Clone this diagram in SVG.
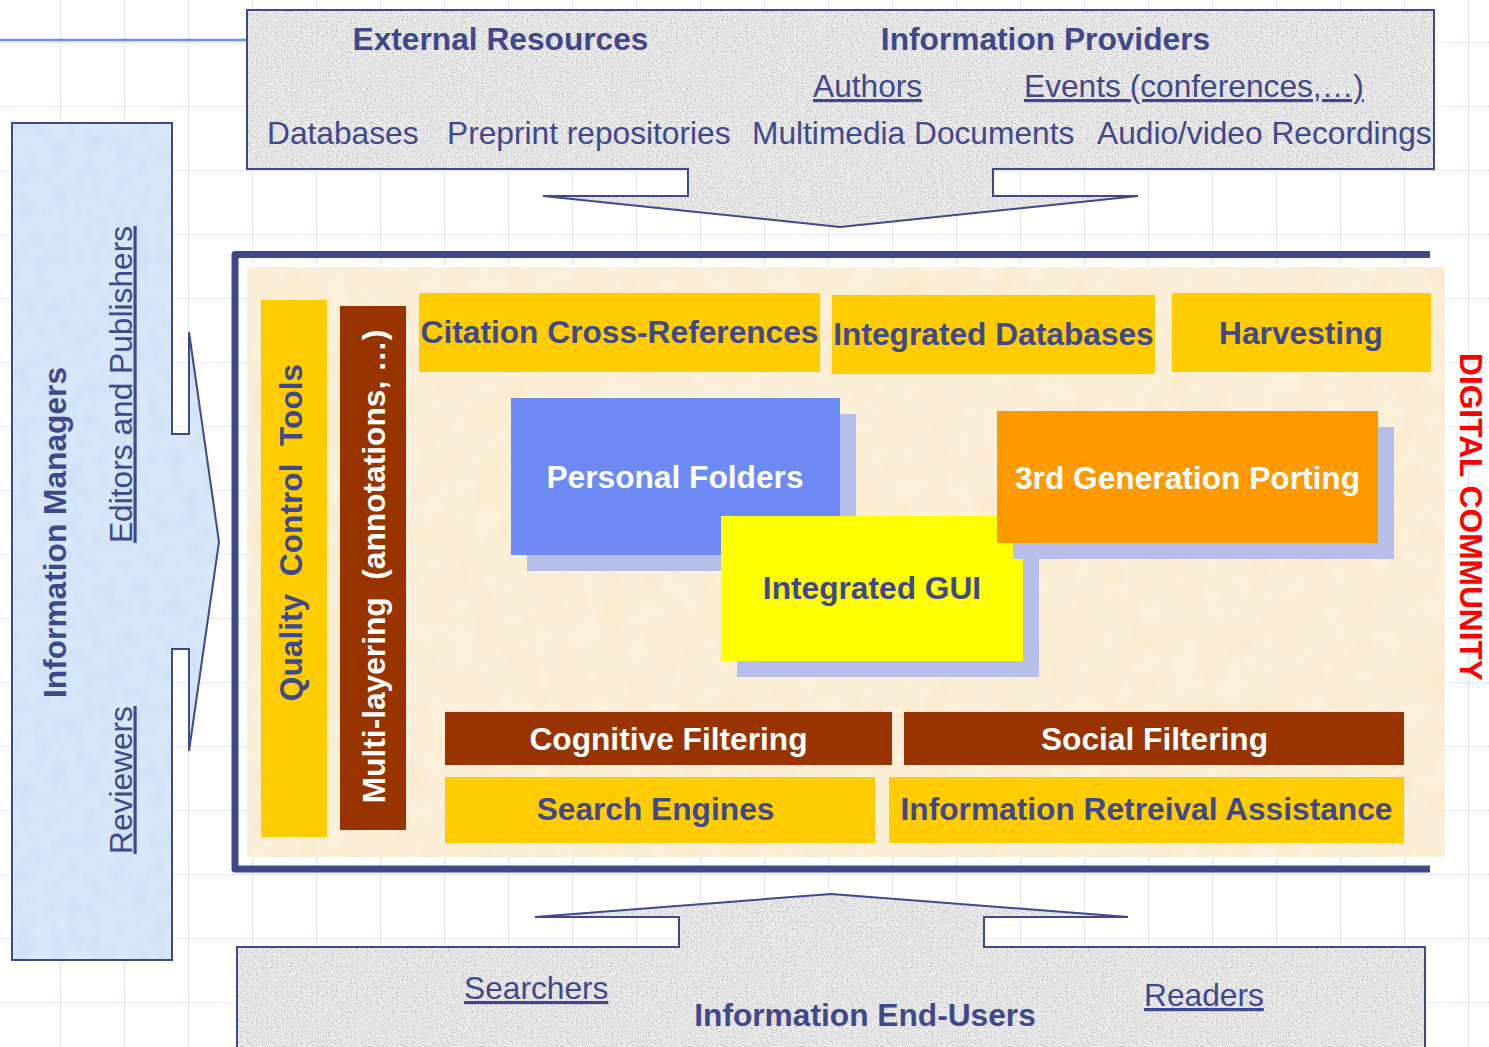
<svg xmlns="http://www.w3.org/2000/svg" width="1489" height="1047" viewBox="0 0 1489 1047">
<style>
.t{font-family:"Liberation Sans",Arial,Helvetica,sans-serif;font-size:31.7px}
.b{font-weight:bold}
.dk{fill:#40488c}
.wh{fill:#ffffff}
.u{text-decoration:underline}
.ol{fill:none;stroke:#40488c;stroke-width:2}
.gold{fill:#ffcc00}
.brown{fill:#993300}
.shadow{fill:#b5bfea}
.pre{white-space:pre}
</style>
<defs>
<pattern id="grid" x="60" y="42" width="64" height="64" patternUnits="userSpaceOnUse">
<path d="M0,0.5H64M0.5,0V64" fill="none" stroke="#d9e0f9" stroke-width="1" stroke-dasharray="3 1"/>
</pattern>
<filter id="grainGrey" x="0" y="0" width="100%" height="100%" color-interpolation-filters="sRGB">
<feTurbulence type="fractalNoise" baseFrequency="0.8" numOctaves="2" seed="4" result="n"/>
<feColorMatrix in="n" type="matrix" values="0 0 0 0 0.5  0 0 0 0 0.5  0 0 0 0 0.5  -1.6 0 0 0 0.8" result="d"/>
<feComposite in="d" in2="SourceGraphic" operator="in" result="dm"/>
<feMerge><feMergeNode in="SourceGraphic"/><feMergeNode in="dm"/></feMerge>
</filter>
<filter id="grainBlue" x="0" y="0" width="100%" height="100%" color-interpolation-filters="sRGB">
<feTurbulence type="fractalNoise" baseFrequency="0.06" numOctaves="3" seed="9" result="n"/>
<feColorMatrix in="n" type="matrix" values="0 0 0 0 0.78  0 0 0 0 0.85  0 0 0 0 0.95  -1.2 0 0 0 0.75" result="d"/>
<feComposite in="d" in2="SourceGraphic" operator="in" result="dm"/>
<feMerge><feMergeNode in="SourceGraphic"/><feMergeNode in="dm"/></feMerge>
</filter>
<filter id="grainCream" x="0" y="0" width="100%" height="100%" color-interpolation-filters="sRGB">
<feTurbulence type="fractalNoise" baseFrequency="0.04" numOctaves="2" seed="2" result="n"/>
<feColorMatrix in="n" type="matrix" values="0 0 0 0 0.97  0 0 0 0 0.90  0 0 0 0 0.76  -1.2 0 0 0 0.75" result="d"/>
<feComposite in="d" in2="SourceGraphic" operator="in" result="dm"/>
<feMerge><feMergeNode in="SourceGraphic"/><feMergeNode in="dm"/></feMerge>
</filter>
</defs>

<rect width="1489" height="1047" fill="#ffffff"/>
<rect width="1489" height="1047" fill="url(#grid)"/>

<g id="connectors">
<line x1="0" y1="40" x2="247" y2="40" stroke="#6e8cf2" stroke-width="2.5"/>
</g>

<g id="n-top">
<path d="M247,10 H1434 V169 H993 V196 H1138 L840,227 L543,196 H688 V169 H247 Z" fill="#ebebeb" filter="url(#grainGrey)"/>
<path d="M247,10 H1434 V169 H993 V196 H1138 L840,227 L543,196 H688 V169 H247 Z" class="ol"/>
<text class="t b dk" x="500.5" y="50" text-anchor="middle">External Resources</text>
<text class="t b dk" x="1045.5" y="50" text-anchor="middle">Information Providers</text>
<text class="t dk u" x="813" y="97">Authors</text>
<text class="t dk u" x="1024" y="97">Events (conferences,…)</text>
<text class="t dk" x="267" y="143.5">Databases</text>
<text class="t dk" x="447" y="143.5">Preprint repositories</text>
<text class="t dk" x="752" y="143.5">Multimedia Documents</text>
<text class="t dk" x="1097" y="143.5">Audio/video Recordings</text>
</g>

<g id="n-managers">
<path d="M12,123 H172 V434 H189 V332 L219,542 L189,751 V649 H172 V960 H12 Z" fill="#d9e8f9" filter="url(#grainBlue)"/>
<path d="M12,123 H172 V434 H189 V332 L219,542 L189,751 V649 H172 V960 H12 Z" class="ol"/>
<text class="t b dk" transform="translate(66,532.5) rotate(-90)" text-anchor="middle">Information Managers</text>
<text class="t dk u" transform="translate(131.5,384.5) rotate(-90)" text-anchor="middle">Editors and Publishers</text>
<text class="t dk u" transform="translate(131.5,780) rotate(-90)" text-anchor="middle">Reviewers</text>
</g>

<g id="n-endusers">
<path d="M237,1052 V947 H679 V917 H535 L831,894 L1128,917 H984 V947 H1425 V1052 Z" fill="#ebebeb" filter="url(#grainGrey)"/>
<path d="M237,1052 V947 H679 V917 H535 L831,894 L1128,917 H984 V947 H1425 V1052" class="ol"/>
<text class="t dk u" x="464" y="999">Searchers</text>
<text class="t dk u" x="1144" y="1006">Readers</text>
<text class="t b dk" x="865" y="1026" text-anchor="middle">Information End-Users</text>
</g>

<g id="n-community">
<rect x="247" y="267" width="1198" height="590" fill="#fcf0da" filter="url(#grainCream)"/>
<path d="M1430,254.5 H235 V869 H1430" fill="none" stroke="#40488c" stroke-width="7" stroke-linejoin="round"/>
</g>

<g id="n-digital">
<text class="t b" fill="#ff0000" transform="translate(1460,517) rotate(90)" text-anchor="middle">DIGITAL COMMUNITY</text>
</g>

<g id="n-quality">
<rect class="gold" x="261" y="300" width="66" height="537"/>
<text class="t b dk pre" xml:space="preserve" transform="translate(301.5,532.5) rotate(-90)" text-anchor="middle">Quality  Control  Tools</text>
</g>

<g id="n-multilayer">
<rect class="brown" x="340" y="306" width="66" height="524"/>
<text class="t b wh pre" xml:space="preserve" transform="translate(385,566.5) rotate(-90)" text-anchor="middle">Multi-layering  (annotations, …)</text>
</g>

<g id="n-citation">
<rect class="gold" x="419" y="293" width="401" height="79"/>
<text class="t b dk" x="619.5" y="343" text-anchor="middle">Citation Cross-References</text>
</g>

<g id="n-intdb">
<rect class="gold" x="832" y="295" width="323" height="79"/>
<text class="t b dk" x="993.5" y="345" text-anchor="middle">Integrated Databases</text>
</g>

<g id="n-harvest">
<rect class="gold" x="1172" y="293" width="259" height="79"/>
<text class="t b dk" x="1301" y="344" text-anchor="middle">Harvesting</text>
</g>

<g id="n-personal">
<rect class="shadow" x="527" y="414" width="329" height="157"/>
<rect x="511" y="398" width="329" height="157" fill="#6d8af5"/>
<text class="t b wh" x="675" y="487.5" text-anchor="middle">Personal Folders</text>
</g>

<g id="n-gui">
<rect class="shadow" x="737" y="532" width="302" height="145"/>
<rect x="721" y="516" width="302" height="145" fill="#ffff00"/>
<text class="t b dk" x="872" y="598.5" text-anchor="middle">Integrated GUI</text>
</g>

<g id="n-porting">
<rect class="shadow" x="1013" y="427" width="381" height="132"/>
<rect x="997" y="411" width="381" height="132" fill="#ff9900"/>
<text class="t b wh" x="1187.5" y="488.5" text-anchor="middle">3rd Generation Porting</text>
</g>

<g id="n-cognitive">
<rect class="brown" x="445" y="712" width="447" height="53"/>
<text class="t b wh" x="668.5" y="750" text-anchor="middle">Cognitive Filtering</text>
</g>

<g id="n-social">
<rect class="brown" x="904" y="712" width="500" height="53"/>
<text class="t b wh" x="1154.5" y="750" text-anchor="middle">Social Filtering</text>
</g>

<g id="n-search">
<rect class="gold" x="445" y="777" width="430" height="66"/>
<text class="t b dk" x="655.5" y="820" text-anchor="middle">Search Engines</text>
</g>

<g id="n-ira">
<rect class="gold" x="889" y="777" width="515" height="66"/>
<text class="t b dk" x="1146.5" y="820" text-anchor="middle">Information Retreival Assistance</text>
</g>
</svg>
